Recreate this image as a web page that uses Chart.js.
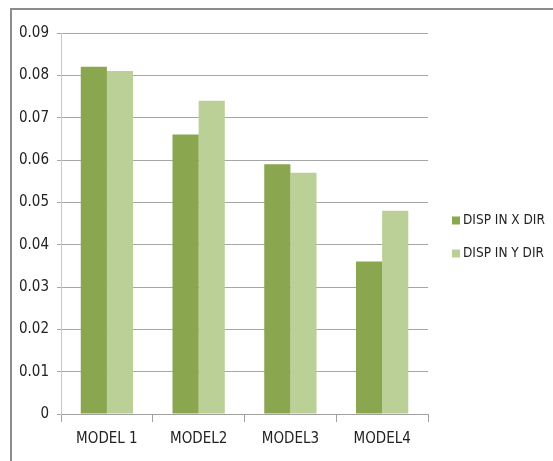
<!DOCTYPE html>
<html>
<head>
<meta charset="utf-8">
<script src="https://cdn.jsdelivr.net/npm/chart.js@4.4.1/dist/chart.umd.min.js"></script>
<style>
  html, body { margin: 0; padding: 0; background: #fff; }
  #wrap { width: 553px; height: 461px; position: relative; }
</style>
</head>
<body>
<div id="wrap"><canvas id="chart" width="553" height="461"></canvas></div>
<script>
// Chart data
const categories = ["MODEL 1", "MODEL2", "MODEL3", "MODEL4"];
const dispX = [0.082, 0.066, 0.059, 0.036];
const dispY = [0.081, 0.074, 0.057, 0.048];
const seriesNames = ["DISP IN X DIR", "DISP IN Y DIR"];

const fontFamily = "'Liberation Sans Narrow', 'DejaVu Sans Condensed', 'Liberation Sans', sans-serif";

// Draws the grey frame (top and left edges only, like the source image)
const framePlugin = {
    id: "frame",
    beforeDraw(chart) {
        const ctx = chart.ctx;
        ctx.save();
        ctx.strokeStyle = "#8c8c8c";
        ctx.lineWidth = 2;
        ctx.beginPath();
        ctx.moveTo(11, 461);
        ctx.lineTo(11, 9);
        ctx.lineTo(553, 9);
        ctx.stroke();
        ctx.restore();
    }
};

// Legend placed to the right of the plot, away from the axis
const sideLegend = {
    id: "sideLegend",
    afterDraw(chart) {
        const ctx = chart.ctx;
        const x = chart.chartArea.right + 24;
        const midY = 237;
        const gap = 33;
        ctx.save();
        ctx.font = "13.5px " + fontFamily;
        ctx.textBaseline = "middle";
        chart.data.datasets.forEach((ds, i) => {
            let y = midY + (i - 0.5) * gap;
            ctx.fillStyle = ds.backgroundColor;
            ctx.fillRect(x, y - 4, 8, 8);
            ctx.fillStyle = "#222";
            ctx.fillText(ds.label, x + 11, y);
        });
        ctx.restore();
    }
};

let ctx = document.getElementById("chart").getContext("2d");
let myChart = new Chart(ctx, {
    type: "bar",
    data: {
        labels: categories,
        datasets: [{
            label: seriesNames[0],
            data: dispX,
            backgroundColor: "#8aa74f",
            borderWidth: 0
        }, {
            label: seriesNames[1],
            data: dispY,
            backgroundColor: "#bbd096",
            borderWidth: 0
        }]
    },
    options: {
        responsive: false,
        animation: false,
        layout: {
            padding: { left: 11, top: 33, right: 125, bottom: 5 }
        },
        datasets: {
            bar: { categoryPercentage: 0.57, barPercentage: 1.0 }
        },
        plugins: {
            tooltip: { enabled: false },
            legend: { display: false }
        },
        scales: {
            x: {
                grid: {
                    offset: true,
                    drawOnChartArea: false,
                    tickLength: 8,
                    color: "#a0a0a0"
                },
                border: { color: "#a0a0a0" },
                ticks: {
                    color: "#222",
                    padding: 8,
                    font: { family: fontFamily, size: 15 }
                }
            },
            y: {
                min: 0,
                max: 0.09,
                grid: {
                    color: "#a6a6a6",
                    tickLength: 4
                },
                border: { color: "#c8c8c8" },
                ticks: {
                    stepSize: 0.01,
                    color: "#222",
                    padding: 8,
                    font: { family: fontFamily, size: 15 },
                    callback: v => v === 0 ? "0" : v.toFixed(2)
                }
            }
        }
    },
    plugins: [framePlugin, sideLegend]
});
</script>
</body>
</html>
